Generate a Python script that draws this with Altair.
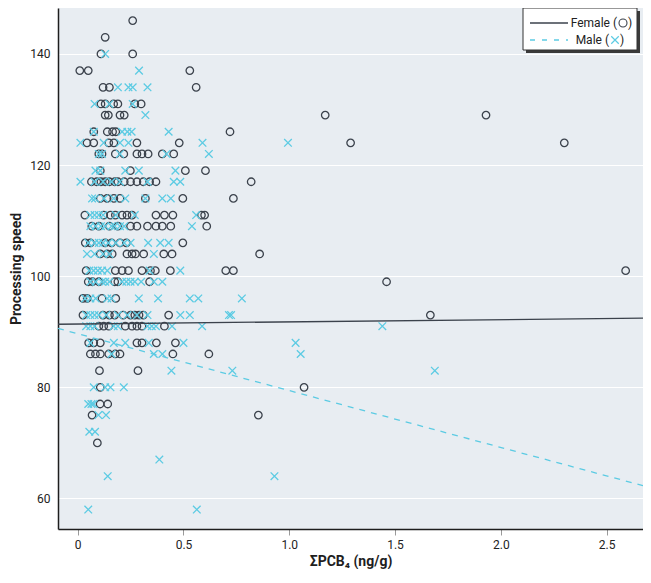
import altair as alt
import pandas as pd

FONT = "Roboto, Liberation Sans, sans-serif"

# ---------------- data ----------------
female_levels = [146, 143, 140, 137, 134, 131, 129, 126, 124, 122, 119, 117, 114, 111,
                 109, 106, 104, 101, 99, 96, 93, 91, 88, 86, 83, 80, 77, 75, 70]
female_x_rows = [
    [0.26],
    [0.13],
    [0.11, 0.26],
    [0.01, 0.05, 0.53],
    [0.12, 0.15, 0.56],
    [0.11, 0.13, 0.17, 0.19, 0.27, 0.30],
    [0.13, 0.145, 0.20, 0.22, 1.17, 1.93],
    [0.076, 0.14, 0.165, 0.18, 0.72],
    [0.044, 0.076, 0.147, 0.171, 0.28, 0.48, 1.29, 2.30],
    [0.10, 0.115, 0.178, 0.218, 0.28, 0.304, 0.333, 0.40, 0.454],
    [0.107, 0.249, 0.509, 0.604],
    [0.065, 0.09, 0.11, 0.13, 0.15, 0.175, 0.19, 0.22, 0.25, 0.28, 0.31, 0.34, 0.37, 0.82],
    [0.107, 0.139, 0.171, 0.20, 0.32, 0.497, 0.736],
    [0.034, 0.123, 0.155, 0.178, 0.21, 0.233, 0.257, 0.37, 0.41, 0.45, 0.585, 0.60],
    [0.067, 0.10, 0.15, 0.19, 0.25, 0.28, 0.33, 0.37, 0.40, 0.44, 0.61],
    [0.036, 0.06, 0.13, 0.16, 0.20, 0.23, 0.497],
    [0.107, 0.14, 0.163, 0.233, 0.257, 0.273, 0.312, 0.407, 0.446, 0.86],
    [0.04, 0.178, 0.21, 0.24, 0.304, 0.344, 0.367, 0.438, 0.70, 0.736, 2.59],
    [0.05, 0.07, 0.10, 0.175, 0.19, 0.34, 1.46],
    [0.025, 0.045, 0.115, 0.18],
    [0.025, 0.12, 0.15, 0.175, 0.215, 0.25, 0.27, 0.29, 0.31, 0.43, 1.667],
    [0.10, 0.123, 0.147, 0.225, 0.257, 0.28, 0.304, 0.41],
    [0.052, 0.076, 0.107, 0.28, 0.304, 0.372, 0.462],
    [0.06, 0.084, 0.107, 0.147, 0.178, 0.20, 0.45, 0.62],
    [0.103, 0.285],
    [0.107, 1.07],
    [0.106, 0.142],
    [0.068, 0.854],
    [0.093],
]

male_levels = [140, 137, 134, 131, 129, 126, 124, 122, 119, 117, 114, 111, 109, 106, 104,
               101, 99, 96, 93, 91, 88, 86, 83, 80, 77, 75, 72, 67, 64, 58]
male_x_rows = [
    [0.13],
    [0.29],
    [0.19, 0.24, 0.26, 0.33],
    [0.08, 0.15, 0.26],
    [0.32],
    [0.076, 0.21, 0.235, 0.255, 0.43],
    [0.013, 0.123, 0.20, 0.24, 0.59, 0.994],
    [0.10, 0.115, 0.20, 0.42, 0.62],
    [0.084, 0.107, 0.225, 0.289, 0.462],
    [0.013, 0.08, 0.12, 0.16, 0.20, 0.33, 0.454, 0.485],
    [0.068, 0.082, 0.125, 0.17, 0.225, 0.32, 0.40, 0.44],
    [0.06, 0.08, 0.10, 0.12, 0.18, 0.27, 0.56],
    [0.06, 0.085, 0.11, 0.13, 0.16, 0.175, 0.20, 0.22, 0.54],
    [0.05, 0.08, 0.10, 0.12, 0.145, 0.18, 0.22, 0.25, 0.333, 0.39, 0.43],
    [0.044, 0.08, 0.12, 0.15, 0.36],
    [0.055, 0.075, 0.095, 0.115, 0.14, 0.34, 0.485],
    [0.06, 0.085, 0.115, 0.13, 0.15, 0.21, 0.23, 0.25, 0.27, 0.30, 0.36, 0.40],
    [0.035, 0.06, 0.085, 0.14, 0.16, 0.289, 0.38, 0.53, 0.57, 0.776],
    [0.04, 0.06, 0.08, 0.10, 0.135, 0.19, 0.235, 0.28, 0.33, 0.485, 0.53, 0.715, 0.725],
    [0.04, 0.06, 0.08, 0.17, 0.19, 0.33, 0.35, 0.37, 0.446, 0.588, 1.44],
    [0.06, 0.171, 0.225, 0.336, 0.50, 1.03],
    [0.16, 0.36, 0.40, 1.054],
    [0.443, 0.731, 1.688],
    [0.076, 0.13, 0.155, 0.218],
    [0.05, 0.065, 0.075],
    [0.098, 0.134],
    [0.055, 0.082],
    [0.386],
    [0.142, 0.93],
    [0.05, 0.563],
]

# fitted regression lines (end points at the plot edges)
line_x = [-0.093, 2.672]
female_line_y = [91.35, 92.44]
male_line_y = [90.6, 62.3]

x_ticks = [0, 0.5, 1.0, 1.5, 2.0, 2.5]
y_ticks = [60, 80, 100, 120, 140]

# ---------------- build tables ----------------
def flatten(levels, rows):
    xs, ys = [], []
    for lv, row in zip(levels, rows):
        for v in row:
            xs.append(v)
            ys.append(lv)
    return pd.DataFrame({"x": xs, "y": ys})

df_f = flatten(female_levels, female_x_rows)
df_m = flatten(male_levels, male_x_rows)
df_fl = pd.DataFrame({"x": line_x, "y": female_line_y})
df_ml = pd.DataFrame({"x": line_x, "y": male_line_y})

X_DOMAIN = [-0.093, 2.672]
Y_DOMAIN = [54.5, 148.27]
W, H = 585, 521

DARK = "#3b424c"
CYAN = "#5ccbe3"

x_enc = alt.X(
    "x:Q",
    scale=alt.Scale(domain=X_DOMAIN, nice=False, zero=False),
    axis=alt.Axis(
        values=x_ticks,
        labelExpr="datum.value == 0 ? '0' : format(datum.value, '.1f')",
        grid=False,
        domainColor="#1e1e1e",
        domainWidth=1.5,
        tickColor="#9a9a9a",
        tickSize=6,
        tickWidth=1,
        labelPadding=4,
        labelFont=FONT,
        labelFontSize=12,
        labelColor="#222222",
        title="ΣPCB₄ (ng/g)",
        titleFont=FONT,
        titleFontSize=14,
        titleFontWeight="bold",
        titleColor="#1e1e1e",
        titlePadding=4,
    ),
)
y_enc = alt.Y(
    "y:Q",
    scale=alt.Scale(domain=Y_DOMAIN, nice=False, zero=False),
    axis=alt.Axis(
        values=y_ticks,
        grid=True,
        gridColor="#ffffff",
        gridWidth=1.2,
        ticks=False,
        domainColor="#1e1e1e",
        domainWidth=1.5,
        labelPadding=8,
        labelFont=FONT,
        labelFontSize=12,
        labelColor="#222222",
        title="Processing speed",
        titleFont=FONT,
        titleFontSize=14,
        titleFontWeight="bold",
        titleColor="#1e1e1e",
        titlePadding=6,
    ),
)

pts_f = alt.Chart(df_f).mark_point(
    shape="circle", filled=False, size=56, strokeWidth=1.3, color=DARK, opacity=1
).encode(x=x_enc, y=y_enc)

pts_m = alt.Chart(df_m).mark_point(
    shape="M-1,-1L1,1M1,-1L-1,1", filled=False, size=58, strokeWidth=1.3, color=CYAN, opacity=1
).encode(x="x:Q", y="y:Q")

line_f = alt.Chart(df_fl).mark_line(color=DARK, strokeWidth=1.3).encode(x="x:Q", y="y:Q")
line_m = alt.Chart(df_ml).mark_line(color=CYAN, strokeWidth=1.3, strokeDash=[6, 6]).encode(
    x="x:Q", y="y:Q"
)

# ---------------- legend box (top-right, drawn by hand) ----------------
one = pd.DataFrame({"a": [0]})
shadow = alt.Chart(one).mark_rect(color="#3a3a3a").encode(
    x=alt.value(468), x2=alt.value(582), y=alt.value(3), y2=alt.value(45)
)
box = alt.Chart(one).mark_rect(fill="white", stroke="#333333", strokeWidth=1).encode(
    x=alt.value(465), x2=alt.value(579), y=alt.value(0), y2=alt.value(42)
)
leg_line_f = alt.Chart(one).mark_rule(color=DARK, strokeWidth=1.3).encode(
    x=alt.value(472), x2=alt.value(510), y=alt.value(15)
)
leg_line_m = alt.Chart(one).mark_rule(color=CYAN, strokeWidth=1.3, strokeDash=[5, 7]).encode(
    x=alt.value(472), x2=alt.value(510), y=alt.value(32)
)
txt_style = dict(font=FONT, fontSize=12, baseline="middle", color="#222222")
leg_txt_f1 = alt.Chart(one).mark_text(text="Female (", align="right", **txt_style).encode(
    x=alt.value(559), y=alt.value(15)
)
leg_txt_f2 = alt.Chart(one).mark_point(
    shape="circle", filled=False, size=64, strokeWidth=1.1, color=DARK, opacity=1
).encode(x=alt.value(565), y=alt.value(15))
leg_txt_f3 = alt.Chart(one).mark_text(text=")", align="left", **txt_style).encode(
    x=alt.value(570), y=alt.value(15)
)
leg_txt_m1 = alt.Chart(one).mark_text(text="Male (", align="right", **txt_style).encode(
    x=alt.value(551), y=alt.value(32)
)
leg_txt_m2 = alt.Chart(one).mark_point(
    shape="M-1,-1L1,1M1,-1L-1,1", filled=False, size=56, strokeWidth=1.2, color=CYAN, opacity=1
).encode(x=alt.value(557), y=alt.value(32))
leg_txt_m3 = alt.Chart(one).mark_text(text=")", align="left", **txt_style).encode(
    x=alt.value(562), y=alt.value(32)
)

chart = alt.layer(
    pts_f, pts_m, line_f, line_m,
    shadow, box, leg_line_f, leg_line_m,
    leg_txt_f1, leg_txt_f2, leg_txt_f3, leg_txt_m1, leg_txt_m2, leg_txt_m3,
).properties(
    width=W,
    height=H,
    padding={"left": 50, "top": 0, "right": 0, "bottom": 40},
    autosize=alt.AutoSizeParams(type="none"),
    background="white",
).configure_view(
    fill="#e8edf2", strokeWidth=0
)

chart.save("out.html", embed_options={"renderer": "svg", "actions": False})
